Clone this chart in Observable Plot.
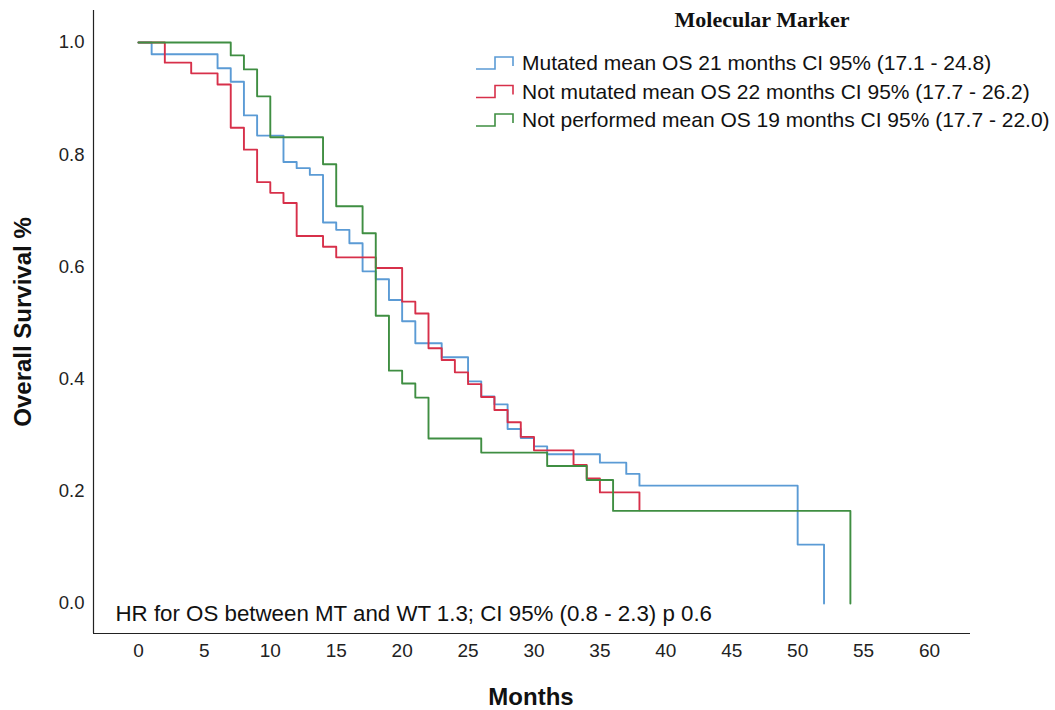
<!DOCTYPE html>
<html>
<head>
<meta charset="utf-8">
<script src="https://cdn.jsdelivr.net/npm/d3@7"></script>
<script src="https://cdn.jsdelivr.net/npm/@observablehq/plot@0.6"></script>
<style>
  html, body { margin: 0; padding: 0; background: #fff; }
  #chart { width: 1055px; height: 710px; }
</style>
</head>
<body>
<div id="chart"></div>
<script>
// Kaplan-Meier step points (month, survival)
const mutatedMonths  = [0, 1, 6, 7, 8, 9, 11, 12, 13, 14, 15, 16, 17, 18, 19, 20, 21, 23, 25, 26, 27, 28, 29, 30, 31, 35, 37, 38, 50, 52];
const mutatedSurv    = [1.0, 0.979, 0.954, 0.930, 0.870, 0.834, 0.787, 0.776, 0.764, 0.679, 0.666, 0.642, 0.592, 0.578, 0.541, 0.503, 0.464, 0.439, 0.396, 0.369, 0.355, 0.311, 0.295, 0.280, 0.266, 0.251, 0.231, 0.210, 0.105, 0.0];

const notMutMonths   = [0, 2, 4, 6, 7, 8, 9, 10, 11, 12, 14, 15, 18, 20, 21, 22, 23, 24, 25, 26, 27, 28, 29, 30, 33, 34, 35, 38];
const notMutSurv     = [1.0, 0.964, 0.945, 0.925, 0.848, 0.809, 0.751, 0.732, 0.714, 0.655, 0.636, 0.617, 0.598, 0.538, 0.517, 0.455, 0.434, 0.412, 0.391, 0.368, 0.345, 0.323, 0.297, 0.273, 0.247, 0.223, 0.198, 0.166];

const notPerfMonths  = [0, 7, 8, 9, 10, 14, 15, 17, 18, 19, 20, 21, 22, 26, 31, 34, 36, 54, 54];
const notPerfSurv    = [1.0, 0.977, 0.952, 0.904, 0.831, 0.783, 0.708, 0.660, 0.513, 0.415, 0.392, 0.367, 0.294, 0.269, 0.245, 0.220, 0.165, 0.165, 0.0];

const seriesNames  = ["Mutated", "Not mutated", "Not performed"];
const seriesColors = ["#5b9bd5", "#d7304a", "#3f8e42"];
const legendLabels = [
  "Mutated mean OS 21 months CI 95% (17.1 - 24.8)",
  "Not mutated mean OS 22 months CI 95% (17.7 - 26.2)",
  "Not performed mean OS 19 months CI 95% (17.7 - 22.0)"
];
const legendTitle = "Molecular Marker";
const xTicks = [0, 5, 10, 15, 20, 25, 30, 35, 40, 45, 50, 55, 60];
const yTicks = [0, 0.2, 0.4, 0.6, 0.8, 1.0];
const annotation = "HR for OS between MT and WT 1.3; CI 95% (0.8 - 2.3) p 0.6";

const toRows = (name, ms, ss) => ms.map((m, i) => ({series: name, month: m, surv: ss[i]}));
const rows = [
  ...toRows(seriesNames[0], mutatedMonths, mutatedSurv),
  ...toRows(seriesNames[1], notMutMonths, notMutSurv),
  ...toRows(seriesNames[2], notPerfMonths, notPerfSurv)
];

const xDomain = [-3.41, 63.11];
const yDomain = [-0.0535, 1.057];
const font = "Liberation Sans, Arial, sans-serif";

const plot = Plot.plot({
  width: 1055,
  height: 710,
  marginLeft: 93,
  marginRight: 85,
  marginTop: 10,
  marginBottom: 77,
  style: {fontFamily: font, fontSize: "19px", color: "#222", background: "#fff"},
  x: {domain: xDomain, label: null},
  y: {domain: yDomain, label: null},
  color: {domain: seriesNames, range: seriesColors},
  marks: [
    Plot.axisX({ticks: xTicks, tickSize: 0, tickPadding: 10, fontSize: 19, label: null}),
    Plot.axisY({ticks: yTicks, tickSize: 0, tickPadding: 9, tickFormat: d3.format(".1f"), fontSize: 18.5, label: null}),
    Plot.line(rows, {x: "month", y: "surv", z: "series", stroke: "series", curve: "step-after", strokeWidth: 1.9}),
    Plot.ruleX([xDomain[0]], {stroke: "#222", strokeWidth: 1.2}),
    Plot.ruleY([yDomain[0]], {stroke: "#222", strokeWidth: 1.2}),
    Plot.text([annotation], {frameAnchor: "bottom-left", dx: 22, dy: -13, textAnchor: "start", fontSize: 22.3, fill: "#111"})
  ]
});

const svg = d3.select(plot);
// axis titles
svg.append("text").attr("x", 531).attr("y", 705).attr("text-anchor", "middle")
  .attr("font-family", font).attr("font-weight", "bold").attr("font-size", 24).attr("fill", "#111").text("Months");
svg.append("text").attr("transform", "translate(31,322) rotate(-90)").attr("text-anchor", "middle")
  .attr("font-family", font).attr("font-weight", "bold").attr("font-size", 24).attr("fill", "#111").text("Overall Survival %");

// legend
svg.append("text").attr("x", 762).attr("y", 27).attr("text-anchor", "middle")
  .attr("font-family", "Liberation Serif, Times New Roman, serif").attr("font-weight", "bold")
  .attr("font-size", 22).attr("fill", "#111").text(legendTitle);
legendLabels.forEach((lab, i) => {
  const y = 63 + i * 28.5;
  svg.append("path")
    .attr("d", `M476,${y + 6} H495 V${y - 6} H513 V${y + 3}`)
    .attr("fill", "none").attr("stroke", seriesColors[i]).attr("stroke-width", 1.6);
  svg.append("text").attr("x", 522).attr("y", y + 7).attr("text-anchor", "start")
    .attr("font-family", font).attr("font-size", 21).attr("fill", "#111").text(lab);
});

document.getElementById("chart").appendChild(plot);
</script>
</body>
</html>
